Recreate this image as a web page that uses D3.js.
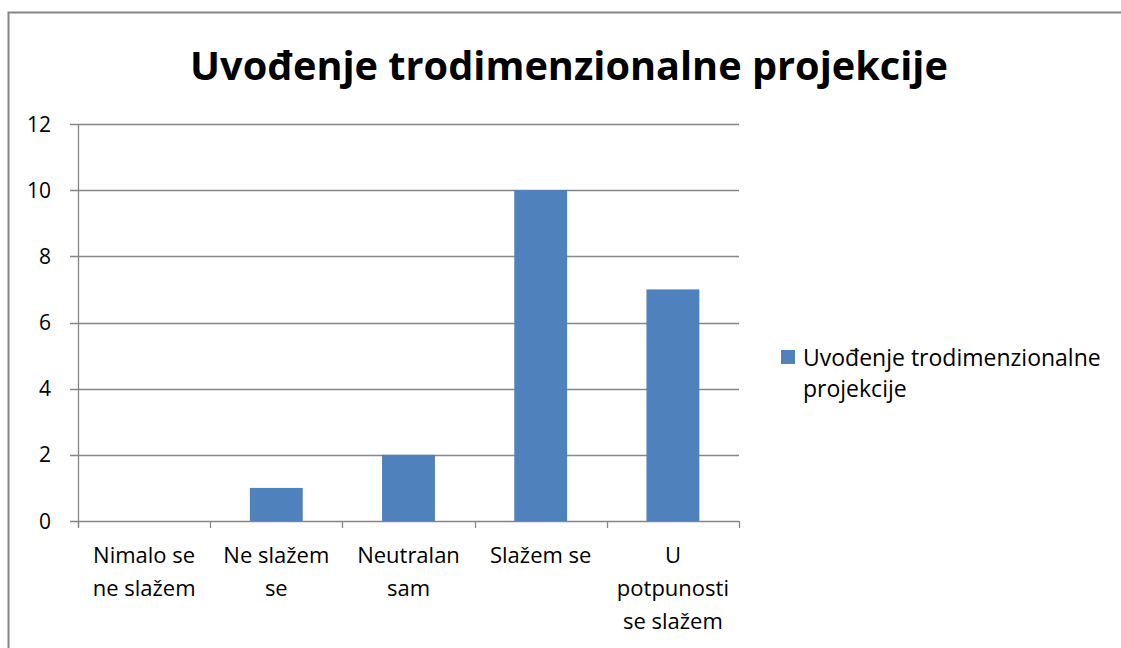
<!DOCTYPE html>
<html>
<head>
<meta charset="utf-8">
<script src="https://cdn.jsdelivr.net/npm/d3@7"></script>
<style>
  body { margin: 0; background: #fff; }
  text { font-family: "Open Sans", "Noto Sans", sans-serif; fill: #000; }
</style>
</head>
<body>
<div id="chart"></div>
<script>
// chart data
const title = "Uvođenje trodimenzionalne projekcije";
const seriesName = "Uvođenje trodimenzionalne projekcije";
const categories = ["Nimalo se ne slažem", "Ne slažem se", "Neutralan sam", "Slažem se", "U potpunosti se slažem"];
const categoryLines = [["Nimalo se", "ne slažem"], ["Ne slažem", "se"], ["Neutralan", "sam"], ["Slažem se"], ["U", "potpunosti", "se slažem"]];
const values = [0, 1, 2, 10, 7];
const yTicks = [0, 2, 4, 6, 8, 10, 12];
const legendLines = ["Uvođenje trodimenzionalne", "projekcije"];

var width = 1121;
var height = 648;
var margin = { top: 124, left: 78, right: 382, bottom: 127 };
var barColor = "#4F81BD";
var gridColor = "#868686";

var svg = d3.select("#chart")
    .append("svg")
    .attr("width", width)
    .attr("height", height);

// outer chart border (runs off the right and bottom edge)
svg.append("rect")
    .attr("x", 8.5)
    .attr("y", 12.5)
    .attr("width", 1200)
    .attr("height", 700)
    .attr("fill", "none")
    .attr("stroke", gridColor)
    .attr("stroke-width", 2);

// Title, scaled to fit the reference width
var titleText = svg.append("text")
    .attr("x", 569)
    .attr("y", 80)
    .attr("text-anchor", "middle")
    .style("font-weight", "bold")
    .style("font-size", "38px")
    .text(title);
var tw = titleText.node().getComputedTextLength();
titleText.style("font-size", (38 * 758 / tw) + "px");

var x = d3.scaleBand()
    .domain(categories)
    .range([margin.left, width - margin.right])
    .paddingInner(0.6)
    .paddingOuter(0.3);

var y = d3.scaleLinear()
    .domain([0, 12])
    .range([height - margin.bottom, margin.top]);

// gridlines
svg.append("g")
    .selectAll("line")
    .data(yTicks)
    .enter()
    .append("line")
    .attr("x1", margin.left - 8)
    .attr("x2", width - margin.right)
    .attr("y1", d => Math.round(y(d)) + 0.5)
    .attr("y2", d => Math.round(y(d)) + 0.5)
    .attr("stroke", gridColor)
    .attr("stroke-width", 1.3);

// y tick labels
svg.append("g")
    .selectAll("text")
    .data(yTicks)
    .enter()
    .append("text")
    .attr("x", 51)
    .attr("y", d => y(d))
    .attr("dy", "0.36em")
    .attr("text-anchor", "end")
    .style("font-size", "21px")
    .text(d => d);

// bars
svg.append("g")
    .selectAll("rect")
    .data(values)
    .enter()
    .append("rect")
    .attr("x", (d, i) => x(categories[i]))
    .attr("y", d => y(d))
    .attr("width", x.bandwidth())
    .attr("height", d => y(0) - y(d))
    .attr("fill", barColor);

// y axis line
svg.append("line")
    .attr("x1", margin.left + 0.5)
    .attr("x2", margin.left + 0.5)
    .attr("y1", margin.top)
    .attr("y2", height - margin.bottom + 6)
    .attr("stroke", gridColor)
    .attr("stroke-width", 1.3);

// x axis ticks at band edges
var step = x.step();
var edges = d3.range(categories.length + 1).map(i => margin.left + i * step);
svg.append("g")
    .selectAll("line")
    .data(edges)
    .enter()
    .append("line")
    .attr("x1", d => Math.round(d) + 0.5)
    .attr("x2", d => Math.round(d) + 0.5)
    .attr("y1", y(0))
    .attr("y2", y(0) + 7)
    .attr("stroke", gridColor)
    .attr("stroke-width", 1.3);

// x category labels
var labels = svg.append("g")
    .selectAll("text")
    .data(categories)
    .enter()
    .append("text")
    .attr("text-anchor", "middle")
    .style("font-size", "22px")
    .attr("transform", d => "translate(" + (x(d) + x.bandwidth() / 2) + ",563)");

labels.selectAll("tspan")
    .data((d, i) => categoryLines[i])
    .enter()
    .append("tspan")
    .attr("x", 0)
    .attr("y", (d, j) => j * 33)
    .text(d => d);

// legend
svg.append("rect")
    .attr("x", 781)
    .attr("y", 350)
    .attr("width", 14)
    .attr("height", 14)
    .attr("fill", barColor);

svg.append("text")
    .style("font-size", "23px")
    .selectAll("tspan")
    .data(legendLines)
    .enter()
    .append("tspan")
    .attr("x", 803)
    .attr("y", (d, i) => 366 + i * 31)
    .text(d => d);
</script>
</body>
</html>
